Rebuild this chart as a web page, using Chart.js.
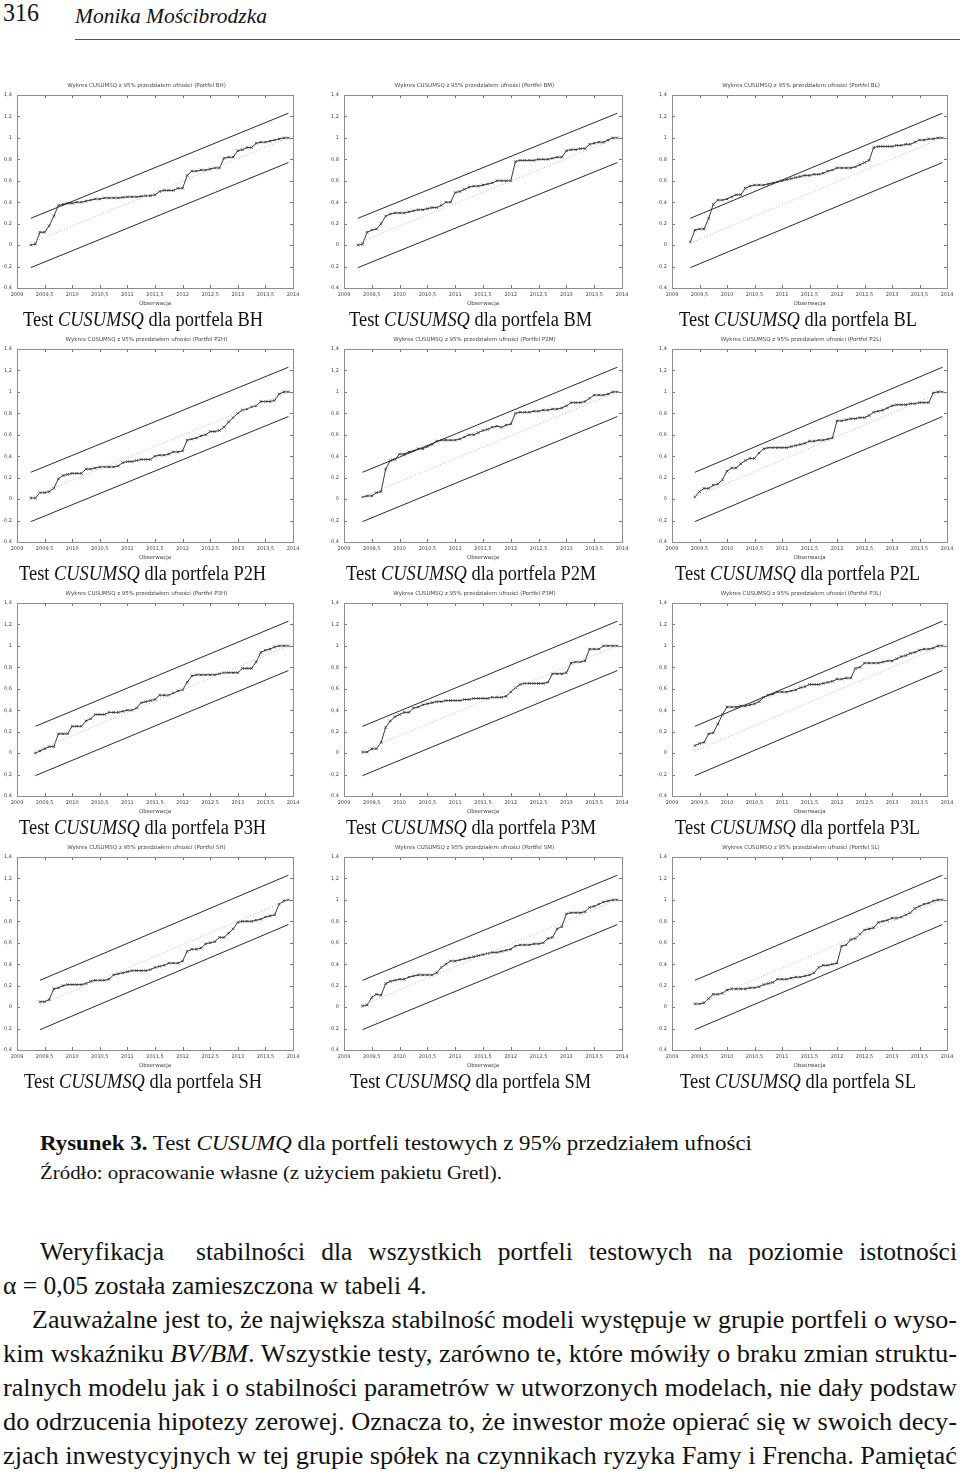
<!DOCTYPE html>
<html>
<head>
<meta charset="utf-8">
<script src="https://cdn.jsdelivr.net/npm/chart.js@4.4.1/dist/chart.umd.min.js"></script>
<style>
html,body{margin:0;padding:0;background:#fff;}
body{width:960px;height:1477px;position:relative;overflow:hidden;font-family:"Liberation Serif","Times New Roman",serif;color:#111;}
canvas{position:absolute;}
</style>
</head>
<body>
<script>
// ---------------- DATA ----------------
const portfolios = ['BH','BM','BL','P2H','P2M','P2L','P3H','P3M','P3L','SH','SM','SL'];
// first observation, as months after January 2009 (3 = April 2009); last observation = December 2013
const startMonth = [3,3,4,3,4,5,4,4,5,5,4,5];
const xTickLabels = ['2009','2009,5','2010','2010,5','2011','2011,5','2012','2012,5','2013','2013,5','2014'];
const yTickLabels = ['-0,4','-0,2','0','0,2','0,4','0,6','0,8','1','1,2','1,4'];
const upperBound = [0.25, 1.23];
const lowerBound = [-0.21, 0.77];
const expectedPath = [0.02, 1.00];

const cusumBH = [0.00,0.01,0.12,0.12,0.18,0.27,0.37,0.38,0.39,
  0.39,0.40,0.40,0.41,0.42,0.43,0.43,0.44,0.44,0.44,0.44,0.445,
  0.45,0.45,0.45,0.455,0.46,0.46,0.47,0.50,0.51,0.51,0.51,0.53,
  0.53,0.65,0.69,0.69,0.70,0.70,0.71,0.72,0.72,0.81,0.82,0.82,
  0.88,0.89,0.91,0.91,0.95,0.96,0.96,0.97,0.98,0.99,1.00,1.00];
const cusumBM = [0.00,0.01,0.12,0.14,0.15,0.20,0.27,0.29,0.30,
  0.30,0.30,0.31,0.32,0.33,0.33,0.34,0.35,0.35,0.37,0.40,0.40,
  0.49,0.50,0.52,0.54,0.55,0.55,0.56,0.57,0.58,0.60,0.60,0.60,
  0.60,0.78,0.79,0.79,0.79,0.79,0.80,0.80,0.80,0.81,0.82,0.82,
  0.88,0.89,0.89,0.90,0.90,0.94,0.95,0.96,0.96,0.98,1.00,1.00];
const cusumBL = [0.03,0.14,0.15,0.15,0.25,0.38,0.42,0.42,
  0.43,0.45,0.47,0.47,0.53,0.55,0.56,0.56,0.56,0.57,0.58,0.59,
  0.60,0.61,0.62,0.63,0.64,0.65,0.65,0.66,0.66,0.67,0.69,0.70,
  0.72,0.72,0.72,0.72,0.73,0.75,0.77,0.79,0.91,0.92,0.92,0.92,
  0.92,0.93,0.93,0.94,0.94,0.96,0.98,0.98,0.99,0.99,1.00,1.00];
const cusumP2H = [0.01,0.01,0.06,0.06,0.07,0.10,0.19,0.22,0.23,
  0.24,0.24,0.24,0.28,0.28,0.29,0.30,0.30,0.30,0.30,0.31,0.34,
  0.35,0.35,0.36,0.37,0.37,0.37,0.40,0.41,0.41,0.42,0.44,0.44,
  0.45,0.55,0.56,0.57,0.59,0.60,0.63,0.63,0.64,0.67,0.72,0.76,
  0.80,0.83,0.84,0.86,0.87,0.91,0.91,0.91,0.92,0.98,1.00,1.00];
const cusumP2M = [0.02,0.03,0.03,0.06,0.07,0.28,0.36,0.37,
  0.42,0.42,0.44,0.45,0.47,0.47,0.49,0.51,0.54,0.55,0.55,0.55,
  0.55,0.56,0.58,0.60,0.60,0.62,0.64,0.65,0.67,0.68,0.67,0.69,
  0.70,0.80,0.81,0.81,0.81,0.82,0.82,0.83,0.83,0.84,0.84,0.85,
  0.87,0.90,0.90,0.90,0.91,0.94,0.97,0.97,0.97,0.98,1.00,1.00];
const cusumP2L = [0.02,0.07,0.10,0.10,0.13,0.14,0.18,
  0.26,0.29,0.29,0.33,0.36,0.38,0.38,0.43,0.47,0.48,0.48,0.48,
  0.48,0.48,0.49,0.50,0.51,0.52,0.54,0.54,0.55,0.55,0.56,0.57,
  0.73,0.73,0.74,0.75,0.75,0.76,0.76,0.78,0.81,0.82,0.83,0.85,
  0.87,0.88,0.88,0.88,0.89,0.89,0.90,0.90,0.90,0.99,1.00,1.00];
const cusumP3H = [0.00,0.02,0.04,0.06,0.06,0.18,0.18,0.18,
  0.25,0.25,0.25,0.30,0.32,0.36,0.36,0.36,0.38,0.38,0.38,0.39,
  0.40,0.40,0.42,0.47,0.48,0.49,0.50,0.54,0.54,0.54,0.56,0.58,
  0.59,0.66,0.72,0.73,0.73,0.73,0.73,0.73,0.74,0.75,0.75,0.75,
  0.75,0.79,0.79,0.79,0.85,0.94,0.96,0.97,0.99,1.00,1.00,1.00];
const cusumP3M = [0.01,0.01,0.04,0.04,0.10,0.24,0.30,0.34,
  0.36,0.38,0.38,0.42,0.43,0.45,0.46,0.47,0.48,0.48,0.49,0.49,
  0.49,0.49,0.50,0.50,0.51,0.51,0.51,0.51,0.52,0.52,0.52,0.53,
  0.57,0.61,0.64,0.65,0.65,0.65,0.65,0.65,0.66,0.74,0.74,0.74,
  0.75,0.84,0.85,0.85,0.86,0.97,0.97,0.97,1.00,1.00,1.00,1.00];
const cusumP3L = [0.07,0.09,0.10,0.18,0.19,0.27,0.36,
  0.43,0.43,0.43,0.44,0.44,0.45,0.46,0.48,0.52,0.54,0.55,0.57,
  0.57,0.57,0.58,0.59,0.61,0.62,0.64,0.64,0.64,0.65,0.66,0.67,
  0.69,0.69,0.70,0.70,0.79,0.80,0.84,0.84,0.84,0.84,0.85,0.86,
  0.86,0.88,0.90,0.91,0.93,0.94,0.96,0.97,0.97,0.98,1.00,1.00];
const cusumSH = [0.05,0.05,0.07,0.17,0.18,0.20,0.21,
  0.21,0.21,0.21,0.22,0.24,0.25,0.25,0.25,0.26,0.30,0.31,0.32,
  0.33,0.34,0.34,0.34,0.34,0.35,0.37,0.38,0.39,0.41,0.41,0.41,
  0.43,0.52,0.54,0.54,0.55,0.59,0.60,0.61,0.65,0.65,0.69,0.73,
  0.79,0.80,0.80,0.80,0.81,0.82,0.84,0.85,0.86,0.96,0.99,1.00];
const cusumSM = [0.01,0.02,0.09,0.12,0.11,0.22,0.24,0.25,
  0.26,0.26,0.28,0.29,0.30,0.30,0.30,0.30,0.32,0.37,0.40,0.43,
  0.43,0.44,0.45,0.46,0.47,0.48,0.49,0.50,0.51,0.51,0.52,0.53,
  0.54,0.57,0.58,0.58,0.58,0.59,0.59,0.60,0.64,0.65,0.73,0.75,
  0.87,0.88,0.88,0.88,0.89,0.93,0.94,0.96,0.98,0.99,1.00,1.00];
const cusumSL = [0.03,0.03,0.04,0.08,0.12,0.12,0.13,
  0.16,0.17,0.17,0.17,0.17,0.18,0.18,0.19,0.21,0.22,0.23,0.26,
  0.26,0.26,0.27,0.28,0.28,0.29,0.30,0.32,0.37,0.39,0.39,0.40,
  0.41,0.57,0.58,0.63,0.64,0.68,0.72,0.73,0.74,0.79,0.80,0.81,
  0.83,0.83,0.84,0.86,0.88,0.92,0.94,0.96,0.97,0.99,1.00,1.00];
const cusumSeries = [cusumBH,cusumBM,cusumBL,cusumP2H,cusumP2M,cusumP2L,cusumP3H,cusumP3M,cusumP3L,cusumSH,cusumSM,cusumSL];

// ---------------- LAYOUT ----------------
const colPlotL = [17, 344, 672];
const colPlotR = [293, 622, 947];
const rowPlotT = [95, 349, 603, 857];
const plotH = 193;
const PADL = 17, PADR = 17, PADT = 20, PADB = 22;

const framePlugin = {
  id: 'gnuFrame',
  afterDatasetsDraw(chart){
    const {ctx, chartArea:a, scales} = chart;
    ctx.save();
    ctx.strokeStyle = '#777'; ctx.lineWidth = 1;
    const tl = 3;
    scales.y.ticks.forEach(t => {
      const y = Math.round(scales.y.getPixelForValue(t.value)) + 0.5;
      ctx.beginPath(); ctx.moveTo(a.left, y); ctx.lineTo(a.left + tl, y);
      ctx.moveTo(a.right, y); ctx.lineTo(a.right - tl, y); ctx.stroke();
    });
    scales.x.ticks.forEach(t => {
      const x = Math.round(scales.x.getPixelForValue(t.value)) + 0.5;
      ctx.beginPath(); ctx.moveTo(x, a.bottom); ctx.lineTo(x, a.bottom - tl);
      ctx.moveTo(x, a.top); ctx.lineTo(x, a.top + tl); ctx.stroke();
    });
    ctx.strokeStyle = '#8c8c8c';
    ctx.strokeRect(Math.round(a.left)+0.5, Math.round(a.top)+0.5, Math.round(a.right-a.left), Math.round(a.bottom-a.top));
    ctx.restore();
  }
};

const tickFont = {family: 'DejaVu Sans', size: 5};

portfolios.forEach((p, k) => {
  const col = k % 3, row = Math.floor(k / 3);
  const pl = colPlotL[col], pr = colPlotR[col], pt = rowPlotT[row];
  const cv = document.createElement('canvas');
  const w = (pr - pl) + PADL + PADR, h = plotH + PADT + PADB;
  cv.width = w; cv.height = h;
  cv.style.left = (pl - PADL) + 'px'; cv.style.top = (pt - PADT) + 'px';
  cv.style.width = w + 'px'; cv.style.height = h + 'px';
  document.body.appendChild(cv);

  const vals = cusumSeries[k];
  const s0 = startMonth[k];
  const pts = vals.map((v, i) => ({x: 2009 + (s0 + i) / 12, y: v}));
  const x0 = pts[0].x, x1 = pts[pts.length - 1].x;

  new Chart(cv, {
    type: 'line',
    data: {
      datasets: [
        {data: [{x:x0,y:expectedPath[0]},{x:x1,y:expectedPath[1]}], borderColor:'#b5b5b5', borderWidth:1, borderDash:[1,2], pointRadius:0},
        {data: [{x:x0,y:upperBound[0]},{x:x1,y:upperBound[1]}], borderColor:'#2a2a2a', borderWidth:1, pointRadius:0},
        {data: [{x:x0,y:lowerBound[0]},{x:x1,y:lowerBound[1]}], borderColor:'#2a2a2a', borderWidth:1, pointRadius:0},
        {data: pts, borderColor:'#3a3a3a', borderWidth:1, pointStyle:'crossRot', pointRadius:1.8, pointBorderWidth:0.8, pointBorderColor:'#333', tension:0}
      ]
    },
    options: {
      responsive: false, animation: false, devicePixelRatio: 1,
      layout: {padding: {left: 0, right: PADR, top: 0, bottom: 0}},
      plugins: {
        legend: {display: false}, tooltip: {enabled: false},
        title: {display: true, text: 'Wykres CUSUMSQ z 95% przedziałem ufności (Portfel ' + p + ')',
          font: {family: 'DejaVu Sans', size: 5.5, lineHeight: 1.2, weight: 'normal'}, color: '#444',
          padding: {top: 7, bottom: PADT - 7 - 6.6}}
      },
      scales: {
        x: {type: 'linear', min: 2009, max: 2014,
          ticks: {stepSize: 0.5, autoSkip: false, maxRotation: 0, font: tickFont, color: '#444', padding: 4,
            callback: (v) => xTickLabels[Math.round((v - 2009) * 2)]},
          grid: {display: false, drawTicks: false}, border: {display: false},
          title: {display: true, text: 'Obserwacja', font: {family: 'DejaVu Sans', size: 5.5, lineHeight: 1.2}, color: '#444', padding: {top: 0, bottom: 3}},
          afterFit(s){ s.height = PADB; }},
        y: {type: 'linear', min: -0.4, max: 1.4,
          ticks: {stepSize: 0.2, font: tickFont, color: '#444', padding: 5,
            callback: (v) => yTickLabels[Math.round((v + 0.4) * 5)]},
          grid: {display: false, drawTicks: false}, border: {display: false},
          afterFit(s){ s.width = PADL; }}
      }
    },
    plugins: [framePlugin]
  });
});

// ---------------- TEXT ----------------
function addText(html, o){
  const d = document.createElement('div');
  d.innerHTML = html;
  d.style.position = 'absolute';
  d.style.whiteSpace = 'nowrap';
  d.style.fontSize = o.size + 'px';
  d.style.lineHeight = '1';
  d.style.fontFamily = o.family || '"Liberation Serif", "Times New Roman", serif';
  d.style.color = o.color || '#111';
  if (o.italic) d.style.fontStyle = 'italic';
  if (o.justify){
    d.style.whiteSpace = 'normal'; d.style.textAlign = 'justify'; d.style.textAlignLast = 'justify';
    d.style.width = o.width + 'px';
  }
  d.style.left = '0px'; d.style.top = '0px';
  document.body.appendChild(d);
  const nat = d.getBoundingClientRect().width;
  let sx = o.sx || 1;
  if (o.width && !o.justify){
    sx = Math.min(1.15, Math.max(0.85, o.width / nat));
  }
  if (sx !== 1){
    d.style.transformOrigin = '0 0';
    d.style.transform = 'scaleX(' + sx + ')';
  }
  const left = (o.cx !== undefined) ? o.cx - nat * sx / 2 : o.left;
  d.style.left = left + 'px';
  d.style.top = (o.baseline - 0.8375 * o.size) + 'px';
  return {el: d, nat: nat};
}

// header
addText('316', {left: 3, baseline: 22, size: 26, width: 36});
addText('Monika Mościbrodzka', {left: 75, baseline: 23.3, size: 22, italic: true, width: 192});
const rule = document.createElement('div');
rule.style.cssText = 'position:absolute;left:75px;top:39px;width:885px;height:1px;background:#555;';
document.body.appendChild(rule);

// chart captions (common horizontal condensation taken from the first caption, 240 px wide)
const probe = addText('Test <i>CUSUMSQ</i> dla portfela BH', {left: -2000, baseline: -100, size: 20});
const capScale = 240 / probe.nat;
probe.el.remove();
portfolios.forEach((p, k) => {
  const col = k % 3, row = Math.floor(k / 3);
  const cx = (colPlotL[col] + colPlotR[col]) / 2 - 12;
  addText('Test <i>CUSUMSQ</i> dla portfela ' + p, {cx: cx, baseline: rowPlotT[row] + 230.7, size: 20, sx: capScale});
});

// figure caption
addText('<b>Rysunek 3.</b> Test <i>CUSUMQ</i> dla portfeli testowych z 95% przedziałem ufności', {left: 40, baseline: 1150, size: 20, width: 712});
addText('Źródło: opracowanie własne (z użyciem pakietu Gretl).', {left: 40, baseline: 1179, size: 19, width: 462});

// paragraph
const PS = 25.5;
addText('Weryfikacja&nbsp; stabilności dla wszystkich portfeli testowych na poziomie istotności', {left: 40, baseline: 1260, size: PS, justify: true, width: 917});
addText('α = 0,05 została zamieszczona w tabeli 4.', {left: 3, baseline: 1294, size: PS});
addText('Zauważalne jest to, że największa stabilność modeli występuje w grupie portfeli o wyso-', {left: 32, baseline: 1328, size: PS, width: 925});
addText('kim wskaźniku <i>BV/BM</i>. Wszystkie testy, zarówno te, które mówiły o braku zmian struktu-', {left: 3, baseline: 1362, size: PS, width: 954});
addText('ralnych modelu jak i o stabilności parametrów w utworzonych modelach, nie dały podstaw', {left: 3, baseline: 1396, size: PS, width: 954});
addText('do odrzucenia hipotezy zerowej. Oznacza to, że inwestor może opierać się w swoich decy-', {left: 3, baseline: 1430, size: PS, width: 954});
addText('zjach inwestycyjnych w tej grupie spółek na czynnikach ryzyka Famy i Frencha. Pamiętać', {left: 3, baseline: 1464, size: PS, width: 954});
</script>
</body>
</html>
